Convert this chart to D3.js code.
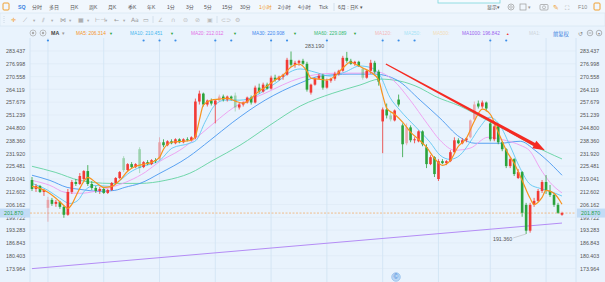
<!DOCTYPE html>
<html>
<head>
<meta charset="utf-8">
<script src="https://cdn.jsdelivr.net/npm/d3@7"></script>
<style>
body { margin: 0; background: #e9f3fd; overflow: hidden; }
svg { display: block; font-family: "Liberation Sans", "Noto Sans CJK SC", sans-serif; }
</style>
</head>
<body>
<div id="chart"></div>
<script>
var svgWidth = 605;
var svgHeight = 282;
var plot = {left: 30, right: 576, top: 38, bottom: 282};

// candles (1 hour)
var open  = [218.5,214,215.5,212.5,204.5,208.5,206.5,207.5,205,201,212.5,217.5,216.5,219,223,216.5,214.5,213,214,212,
             213.5,217,219.5,229.5,223.5,226.5,225,234,225,227.5,226.5,228.5,229,237.5,236,238,237,239,237.5,239,
             238.5,240,258,262,256.5,258.5,256.5,258.5,260.5,259,260.5,261,255,256.5,257.5,260,257.5,265,263,266.5,
             264.5,270,269,270.5,271.5,279,276.5,277.5,278.5,277,262.5,266.5,269.5,271,265,268.5,269.5,272,273.5,280,
             278.5,277,278,274.5,270,273.5,277.5,273,248,254,251,248.5,259,246,237,245,238.5,238,243,235,
             226.5,230,219,228,227,228,232.5,238.5,237,238.5,240,249,257,255.5,257.5,247,239,245.5,237.5,234,
             225.5,229,219.5,222.5,206,193,206,208,213,217.5,213,211,206,201];
var high  = [220,216.5,216,214,210,209.5,208.5,208,205.5,214,218.5,219,222,223.5,226,218,215.5,215,214.5,214,
             217.5,220,223,230.5,227,227.5,227,235,228,228.5,229,229.5,240,239,238.5,239,239.5,239.5,239.5,240,
             240.5,259.5,263.5,262.5,259,259.5,259,261.5,261.5,261,261,262.5,257.5,258,260.5,261,266,267,267.5,267.5,
             271,271.5,271,272,280,283.2,278.5,279,279.5,278,267,270,272,272,269.5,270,273,274,281,283,
             279.5,278.5,278.5,275,274,279,278.5,274,255,257,253,254,261.5,247,247,246,240,243.5,243.5,236.5,
             231,230.5,229,229,228.5,233.5,240,239.5,239.5,240,249,258,258.5,258.5,258,248,247,246,238,234.5,
             230,229.5,224,223,207,207,209.5,214,218.5,221,216,212,207,202.5];
var low   = [213,212.5,212,210.5,197.5,205.5,205,204,199.5,200.5,211.5,215.5,216,218,215.5,213.5,212,211.5,211.5,211.5,
             213,216.5,219,222.5,223,224.5,224.5,222,224.5,226,226,227,228.5,235,235.5,236.5,236.5,237,237,238,
             238,239,256.5,255.5,255.5,256,247,258,258,258,258.5,253,254,255.5,257,256.5,257,262,262.5,264,
             264,268,268.5,269,271,275.5,275,276,276.5,263,261.5,266,269,264,264.5,267.5,268.5,271,273,277.5,
             276.5,276,275.5,269,269.5,272,272,266,232,249.5,248,248,255.5,230,236,237.5,237,237.5,235.5,224.5,
             226,220,218,226.5,226,227.5,232,236.5,236.5,237.5,239.5,248.5,254.5,254.5,253,238,238,236.5,233,224.5,
             224.5,220.5,219,200,191.36,192,205,207.5,212,211.5,210,205,201.5,200.5];
var close = [214,215.5,212.5,213.5,208.5,206.5,207.5,205,201,212.5,217.5,216.5,220.5,223,216.5,214.5,213,214,212,213.5,
             217,219.5,222.5,223.5,226.5,225,226.5,224.5,227.5,226.5,228.5,228,237.5,236,238,237,239,237.5,239,238.5,
             240,258,262,256.5,258.5,257,258.5,260.5,259,260.5,259.5,255,256.5,257.5,260,257.5,265,263,266.5,264.5,
             270,269,270.5,271.5,279,276.5,277.5,278.5,277,264,266.5,269.5,271,265,268.5,269.5,272,273.5,280,278.5,
             277,278,276,270,273.5,277.5,273,268,254,251,249,253.5,256.5,236.5,245,238.5,239,243,236.5,226.5,
             230,221.5,228,227,228,232.5,238.5,237,238.5,239.5,248.5,256.5,255.5,257.5,254.5,239,245.5,237.5,234,225.5,
             229,221.5,222.5,202,193,206,208,213,217.5,213,211,206,202,201.87];
var faded = [4, 23, 27, 32, 47, 51, 83, 90, 94, 110, 111];

// moving averages as [candle index, value]
var ma5 = [[0,215.3],[2,214.3],[4,212.3],[6,209.3],[8,205.7],[9,204.2],[10,206.2],[11,210.3],[12,214.3],[13,217.8],
           [14,219.8],[16,217.3],[18,214.8],[20,215.3],[22,218.3],[24,222.9],[26,225.4],[28,226.4],[30,227.4],[32,229.9],
           [33,234],[35,237.5],[38,238],[40,238.5],[41,240.5],[42,248.6],[43,256.2],[45,258.7],[47,259.2],[49,259.7],
           [51,258.2],[53,257.2],[55,259.7],[57,263.3],[59,265.8],[61,268.8],[63,271.3],[65,275.4],[67,276.9],[69,273.3],
           [70,269.8],[72,269.3],[74,268.8],[76,270.8],[78,274.9],[80,277.9],[81,276.9],[83,274.9],[85,272.8],[87,268.8],
           [88,261.2],[89,254.7],[91,251.6],[93,247.6],[95,242.6],[97,239],[99,235],[101,229.4],[103,225.9],[105,228.4],
           [107,235.5],[109,239.5],[111,248.1],[113,254.2],[115,251.6],[117,242.6],[119,233.5],[121,226.9],[123,218.3],[125,209.3],
           [126,206.2],[128,209.8],[129,213.3],[131,211.8],[133,206.3]];
var ma10 = [[0,216.8],[4,213.3],[7,209.3],[9.5,206.7],[11.5,208.2],[13.3,213.3],[15.8,215.8],[19.6,215.3],[22.1,218.3],[24.6,222.4],
            [27.1,224.9],[29.6,226.4],[32.1,228.4],[35.1,234.5],[39.6,237],[41.2,238.5],[43.4,247.6],[45.9,256.2],[48.4,258.7],[52.2,258.7],
            [56,260.7],[58.5,263.8],[62.2,268.8],[64.7,272.8],[67.3,274.4],[71,272.8],[74.8,270.8],[78.5,272.8],[82.3,275.9],[85.3,274.9],
            [87.3,271.3],[89.8,260.2],[92.3,253.7],[96.1,245.6],[99.9,237.5],[102.4,231],[104.9,228.9],[107.4,231],[109.9,237.5],[112.4,245.1],
            [114.9,250.1],[117.4,246.1],[119.9,236],[122.5,224.4],[125,216.3],[127.5,214.3],[130,212.8],[133,210.45]];
var ma20 = [[0,218.3],[4.5,215.8],[8.3,212.3],[12,211.8],[15.8,212.8],[19.8,214.8],[24.6,218.3],[28.4,222.4],[32.1,227.9],[37.1,233.5],
            [41.4,240],[45.9,247.6],[50.4,254.7],[58.5,262.2],[67.3,269.8],[72.3,271.8],[77.3,272.3],[82.3,272.3],[86.8,272.8],[90.6,268.8],
            [94.9,258.7],[99.1,247.1],[102.4,238.5],[106.1,233.5],[109.9,234.5],[114.4,240],[118.7,238.5],[122.5,236],[125,233],[127.5,224.4],
            [130,217.3],[133,212.0]];
var ma30 = [[0,220.9],[4.5,218.3],[8.8,214.8],[12,213.8],[17.1,212.8],[20.8,213.3],[23.3,214.8],[27.1,216.8],[32.1,221.9],[39.1,229.9],
            [44.7,238.5],[50.4,247.6],[58.5,258.7],[67.3,267.3],[72.3,270.8],[79.8,271.8],[86.1,271.8],[91.6,268.8],[97.4,258.7],[102.4,249.6],
            [107.4,240],[111.2,237],[117.4,237],[122.5,238],[126.2,233.5],[128.7,229.4],[133,220.9]];
var ma60 = [[0,225.4],[5.8,222.4],[12,218.3],[19.6,216.8],[27.1,216.8],[33.4,218.3],[39.6,221.9],[45.4,228.4],[52.2,236],[59.7,246.1],
            [67.3,255.7],[75.5,262.2],[82.3,266.3],[87.3,269.3],[92.3,268.3],[97.4,264.8],[101.1,260.7],[107.4,255.7],[114.2,248.6],[119.9,242.6],
            [125.7,236],[133,229.1]];
var ma1000 = [[0,173.9],[66,185.3],[133,196.84]];

var maNames  = ['MA5', 'MA10', 'MA20', 'MA30', 'MA60', 'MA120', 'MA250', 'MA500', 'MA1000', 'MA1'];
var maLast   = ['206.314', '210.451', '212.012', '220.908', '229.089', '', '', '', '196.842', ''];
var yTicks = ['283.437','276.998','270.558','264.119','257.679','251.239','244.800','238.360','231.920',
              '225.481','219.041','212.602','206.162','199.722','193.283','186.843','180.403','173.964'];
var gridIdx = [4, 18, 32, 46, 60, 74, 88, 102, 115, 129];
var markIdx = [4, 28, 32, 36, 46, 50, 60, 64, 74, 88, 92, 96, 115, 119];
var lastPrice = 201.870;
var highMark = 283.190;
var lowMark = 191.360;
var periods = ['分时','多日','日K','周K','月K','季K','年K','1分','3分','5分','15分','30分','1小时','2小时','4小时','Tick'];

var svg = d3.select('#chart').append('svg')
.attr('width', svgWidth)
.attr('height', svgHeight);

var xScale = d3.scaleLinear().domain([0, close.length - 1]).range([32, 562]);
var yScale = d3.scaleLinear().domain([173.964, 283.437]).range([268.5, 51]);

//-------------------------------------------------------------------------------------------------------
// toolbars

svg.append('rect').attr('x', 0).attr('y', 0).attr('width', svgWidth).attr('height', 13).attr('fill', '#f1f7fd');
svg.append('rect').attr('x', 0).attr('y', 13).attr('width', svgWidth).attr('height', 13).attr('fill', '#edf5fd')
.attr('stroke', '#d3e3f2').attr('stroke-width', 0.6);

svg.append('rect').attr('x', 3).attr('y', 3).attr('width', 6).attr('height', 7).attr('rx', 1)
.attr('fill', 'none').attr('stroke', '#f0a030').attr('stroke-width', 1);
svg.append('text').attr('x', 18).attr('y', 9).attr('font-size', 5.3).attr('font-weight', 'bold')
.attr('fill', '#3a82e0').text('SQ');

var periodX = [32, 49, 70, 89, 108, 128, 147, 167, 186, 204, 222, 240, 259, 278, 298, 319];
svg.append('g').selectAll('text')
.data(periods)
.enter()
.append('text')
.attr('x', (d, i) => periodX[i])
.attr('y', 9)
.attr('font-size', 5)
.attr('fill', d => d == '1小时' ? '#f39a1e' : '#555')
.text(d => d);
svg.append('text').attr('x', 338).attr('y', 9).attr('font-size', 5).attr('fill', '#555').text('6月 : 日K ▾');
svg.append('line').attr('x1', 334).attr('x2', 334).attr('y1', 3).attr('y2', 11).attr('stroke', '#d3e0ec');
svg.append('rect').attr('x', 438).attr('y', -3).attr('width', 62).attr('height', 6)
.attr('fill', '#f6fbff').attr('stroke', '#7ad6dc').attr('stroke-width', 0.8);
svg.append('text').attr('x', 487).attr('y', 9).attr('font-size', 5).attr('fill', '#555').text('显示▾');
svg.append('circle').attr('cx', 511).attr('cy', 7).attr('r', 3).attr('fill', 'none').attr('stroke', '#999').attr('stroke-width', 0.7);
svg.append('circle').attr('cx', 511).attr('cy', 7).attr('r', 1.3).attr('fill', 'none').attr('stroke', '#999').attr('stroke-width', 0.6);
svg.append('rect').attr('x', 520).attr('y', 4).attr('width', 6).attr('height', 6).attr('fill', 'none').attr('stroke', '#999').attr('stroke-width', 0.7);
svg.append('text').attr('x', 528).attr('y', 9).attr('font-size', 4.5).attr('fill', '#999').text('▾');
svg.append('rect').attr('x', 540).attr('y', 4.5).attr('width', 8).attr('height', 5.5).attr('rx', 1).attr('fill', 'none').attr('stroke', '#999').attr('stroke-width', 0.7);
svg.append('circle').attr('cx', 544).attr('cy', 7.3).attr('r', 1.5).attr('fill', 'none').attr('stroke', '#999').attr('stroke-width', 0.6);
svg.append('text').attr('x', 553).attr('y', 9.5).attr('font-size', 7).attr('fill', '#f0a030').text('✎');
svg.append('text').attr('x', 565).attr('y', 9.5).attr('font-size', 6).attr('fill', '#999').text('⛶');
svg.append('text').attr('x', 578).attr('y', 9).attr('font-size', 5.3).attr('fill', '#888').text('F10');
svg.append('rect').attr('x', 594).attr('y', 3).attr('width', 6).attr('height', 7).attr('rx', 1)
.attr('fill', 'none').attr('stroke', '#f0a030').attr('stroke-width', 1);

// drawing tools row
var tools = [['✛', 11, '#f39a1e'], ['⟋', 23, '#999'], ['▾', 33, '#aaa'], ['⫽', 42, '#999'], ['▾', 51, '#aaa'],
             ['⋈', 60, '#999'], ['▾', 69, '#aaa'], ['▦', 78, '#999'], ['▾', 87, '#aaa'], ['⊢⊣', 95, '#999'],
             ['▾', 105, '#aaa'], ['←', 114, '#999'], ['▾', 123, '#aaa'], ['Aa', 131, '#999'], ['▭', 143, '#999'],
             ['∠', 158, '#bbb'], ['∩', 171, '#bbb'], ['⊜', 183, '#bbb'], ['⊘', 195, '#bbb'], ['▣', 207, '#bbb'],
             ['⊂⊃', 221, '#bbb'], ['⚙', 235, '#bbb']];
svg.append('g').selectAll('text')
.data(tools)
.enter()
.append('text')
.attr('x', d => d[1])
.attr('y', 22)
.attr('font-size', d => d[0] == '▾' ? 4.5 : 6)
.attr('font-family', 'DejaVu Sans')
.attr('fill', d => d[2])
.text(d => d[0]);
svg.append('line').attr('x1', 4).attr('x2', 4).attr('y1', 16).attr('y2', 23).attr('stroke', '#ccd9e6').attr('stroke-dasharray', '1,1');
svg.append('line').attr('x1', 153).attr('x2', 153).attr('y1', 16).attr('y2', 23).attr('stroke', '#d3e0ec');
svg.append('line').attr('x1', 217).attr('x2', 217).attr('y1', 16).attr('y2', 23).attr('stroke', '#d3e0ec');

//-------------------------------------------------------------------------------------------------------
// grid and axes

var chartGroup = svg.append('g');

chartGroup.selectAll('.hgrid')
.data(yTicks)
.enter()
.append('line')
.attr('x1', plot.left).attr('x2', plot.right)
.attr('y1', d => yScale(+d)).attr('y2', d => yScale(+d))
.attr('stroke', '#dde9f5').attr('stroke-width', 0.6);

chartGroup.selectAll('.vgrid')
.data(gridIdx)
.enter()
.append('line')
.attr('x1', d => xScale(d)).attr('x2', d => xScale(d))
.attr('y1', plot.top).attr('y2', plot.bottom)
.attr('stroke', '#d3e4f4').attr('stroke-width', 0.9);

chartGroup.append('line').attr('x1', plot.left).attr('x2', plot.left).attr('y1', plot.top).attr('y2', plot.bottom)
.attr('stroke', '#d3e4f4');
chartGroup.append('line').attr('x1', plot.right).attr('x2', plot.right).attr('y1', plot.top).attr('y2', plot.bottom)
.attr('stroke', '#d3e4f4');

var leftAxis = d3.axisRight(yScale).tickValues(yTicks.map(Number)).tickFormat(d => d3.format('.3f')(d)).tickSize(0);
var rightAxis = d3.axisRight(yScale).tickValues(yTicks.map(Number)).tickFormat(d => d3.format('.3f')(d)).tickSize(0);
var la = chartGroup.append('g').attr('transform', 'translate(4,0)').call(leftAxis);
var ra = chartGroup.append('g').attr('transform', 'translate(578,0)').call(rightAxis);
[la, ra].forEach(function(ax) {
	ax.select('.domain').remove();
	ax.selectAll('text').attr('font-size', 5.3).attr('fill', '#555').attr('font-family', 'Liberation Sans').attr('x', 2);
});

// event markers
chartGroup.selectAll('.mark')
.data(markIdx)
.enter()
.append('circle')
.attr('cx', d => xScale(d))
.attr('cy', 40.5)
.attr('r', 1.1)
.attr('fill', '#3c8ee8');

//-------------------------------------------------------------------------------------------------------
// moving averages (drawn under candles)

function maLine(data, color, width) {
	chartGroup.append('path')
	.datum(data)
	.attr('fill', 'none')
	.attr('stroke', color)
	.attr('stroke-width', width)
	.attr('d', d3.line().x(d => xScale(d[0])).y(d => yScale(d[1])).curve(d3.curveMonotoneX));
}
maLine(ma1000, '#b48cf5', 1);
maLine(ma60, '#62d3a0', 0.9);
maLine(ma30, '#4a98f0', 0.9);
maLine(ma20, '#ee9cf0', 0.9);
maLine(ma10, '#5fc6f2', 0.9);

// last price line
chartGroup.append('line')
.attr('x1', plot.left).attr('x2', plot.right)
.attr('y1', yScale(lastPrice)).attr('y2', yScale(lastPrice))
.attr('stroke', '#f2a65a').attr('stroke-width', 0.7).attr('stroke-dasharray', '2,1.5');

//-------------------------------------------------------------------------------------------------------
// candles

var candles = chartGroup.append('g')
.selectAll('g')
.data(close)
.enter()
.append('g')
.attr('opacity', (d, i) => faded.indexOf(i) >= 0 ? 0.4 : 1);

function candleColor(i) {
	return close[i] >= open[i] ? '#f23a36' : '#2ba33c';
}
candles.append('line')
.attr('x1', (d, i) => xScale(i)).attr('x2', (d, i) => xScale(i))
.attr('y1', (d, i) => yScale(high[i])).attr('y2', (d, i) => yScale(low[i]))
.attr('stroke', (d, i) => candleColor(i))
.attr('stroke-width', 0.8);
candles.append('rect')
.attr('x', (d, i) => xScale(i) - 1.3)
.attr('width', 2.6)
.attr('y', (d, i) => yScale(Math.max(open[i], close[i])))
.attr('height', (d, i) => Math.max(0.8, Math.abs(yScale(open[i]) - yScale(close[i]))))
.attr('fill', (d, i) => candleColor(i));

maLine(ma5, '#f7931e', 1.2);

//-------------------------------------------------------------------------------------------------------
// high / low labels

var hiI = high.indexOf(d3.max(high));
var loI = low.indexOf(d3.min(low));
chartGroup.append('text').attr('x', xScale(hiI) + 14).attr('y', yScale(highMark) - 3)
.attr('font-size', 5.3).attr('fill', '#555').text(d3.format('.3f')(highMark));
chartGroup.append('line')
.attr('x1', xScale(loI)).attr('y1', yScale(lowMark))
.attr('x2', xScale(loI) - 13).attr('y2', yScale(lowMark) + 4)
.attr('stroke', '#aaa').attr('stroke-width', 0.5);
chartGroup.append('text').attr('x', xScale(loI) - 14).attr('y', yScale(lowMark) + 7)
.attr('font-size', 5.3).attr('fill', '#555').attr('text-anchor', 'end').text(d3.format('.3f')(lowMark));

// red trend arrow
var aStart = [xScale(88.8), yScale(276.9)];
var aEnd = [xScale(128.7), yScale(233.5)];
var ang = Math.atan2(aEnd[1] - aStart[1], aEnd[0] - aStart[0]);
var nx = -Math.sin(ang), ny = Math.cos(ang);
var headLen = 12, headW = 4.2;
var base = [aEnd[0] - headLen * Math.cos(ang), aEnd[1] - headLen * Math.sin(ang)];
var arrowPts = [
	[aStart[0] + nx * 0.6, aStart[1] + ny * 0.6],
	[base[0] + nx * 1.7, base[1] + ny * 1.7],
	[base[0] + nx * headW, base[1] + ny * headW],
	aEnd,
	[base[0] - nx * headW, base[1] - ny * headW],
	[base[0] - nx * 1.7, base[1] - ny * 1.7],
	[aStart[0] - nx * 0.6, aStart[1] - ny * 0.6]
];
chartGroup.append('path')
.attr('d', d3.line()(arrowPts) + 'Z')
.attr('fill', '#f52a22');

// last price boxes
[[577, 28], [0, 30]].forEach(function(b) {
	chartGroup.append('rect')
	.attr('x', b[0]).attr('y', yScale(lastPrice) - 4.5)
	.attr('width', b[1]).attr('height', 9)
	.attr('fill', '#c2dcf6');
	chartGroup.append('text')
	.attr('x', b[0] + 4).attr('y', yScale(lastPrice) + 2)
	.attr('font-size', 5.3).attr('fill', '#23a04a')
	.text(d3.format('.3f')(lastPrice));
});

// watermark icon
chartGroup.append('circle').attr('cx', 396).attr('cy', 277).attr('r', 4.3)
.attr('fill', '#bcd8f5').attr('stroke', '#7fb2e8').attr('stroke-width', 0.6);
chartGroup.append('text').attr('x', 396).attr('y', 279.3).attr('text-anchor', 'middle')
.attr('font-size', 6.5).attr('fill', '#3a7fd8').text('©');

//-------------------------------------------------------------------------------------------------------
// legend row

var legend = svg.append('g');
[33, 43].forEach(function(cx) {
	legend.append('circle').attr('cx', cx).attr('cy', 33).attr('r', 3).attr('fill', 'none').attr('stroke', '#aaa').attr('stroke-width', 0.7);
	legend.append('circle').attr('cx', cx).attr('cy', 33).attr('r', 1.2).attr('fill', '#aaa');
});
legend.append('text').attr('x', 51).attr('y', 35).attr('font-size', 5.3).attr('font-weight', 'bold').attr('fill', '#444').text('MA');
legend.append('text').attr('x', 62).attr('y', 35).attr('font-size', 4.5).attr('fill', '#999').text('▾');

var maColors = ['#f7931e', '#47b6ee', '#e46ee6', '#3d86ee', '#36bb72', '#f5b9b9', '#a8e4f6', '#f3ddb8', '#9b62ee', '#cdd3da'];
var maX = [76, 130, 191, 252, 314, 375, 404, 433, 462, 529];
legend.selectAll('.ma')
.data(maNames)
.enter()
.append('text')
.attr('x', (d, i) => maX[i])
.attr('y', 35)
.attr('font-size', 4.8)
.attr('fill', (d, i) => maColors[i])
.text((d, i) => d + ':' + (maLast[i] ? ' ' + maLast[i] : ''));
var arrowX = [109, 170, 233, 293, 353];
legend.selectAll('.tri')
.data(arrowX)
.enter()
.append('text')
.attr('x', d => d).attr('y', 35)
.attr('font-size', 4).attr('fill', '#2ba33c')
.text('▼');
legend.append('text').attr('x', 506).attr('y', 35).attr('font-size', 3.5).attr('fill', '#f23a36').text('▲');
legend.append('text').attr('x', 553).attr('y', 35.5).attr('font-size', 5.3).attr('fill', '#3a82e0').text('前复权');
legend.append('text').attr('x', 578).attr('y', 35.5).attr('font-size', 6).attr('font-family', 'DejaVu Sans').attr('fill', '#888').text('↺');
legend.append('circle').attr('cx', 590).attr('cy', 33).attr('r', 2.8).attr('fill', 'none').attr('stroke', '#888').attr('stroke-width', 0.6);
legend.append('line').attr('x1', 588.5).attr('x2', 591.5).attr('y1', 33).attr('y2', 33).attr('stroke', '#888').attr('stroke-width', 0.6);
legend.append('circle').attr('cx', 599).attr('cy', 33).attr('r', 2.8).attr('fill', 'none').attr('stroke', '#888').attr('stroke-width', 0.6);
legend.append('text').attr('x', 599).attr('y', 34.8).attr('text-anchor', 'middle').attr('font-size', 4).attr('fill', '#888').text('▾');
</script>
</body>
</html>
